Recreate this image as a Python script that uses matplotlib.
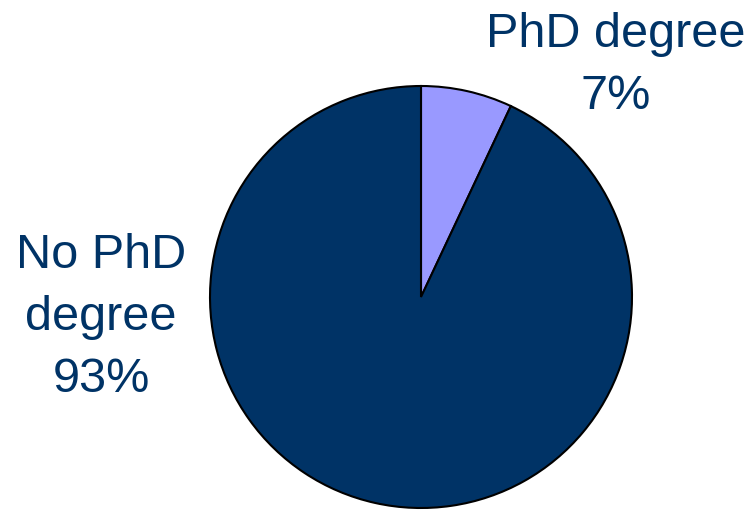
import matplotlib
matplotlib.use("Agg")
import matplotlib.pyplot as plt

categories = ["PhD degree", "No PhD degree"]
shares = [7, 93]
label_lines = [["PhD degree", "7%"], ["No PhD", "degree", "93%"]]
slice_colors = ["#9999FF", "#003366"]
text_color = "#003366"

W, H = 753, 511
fig = plt.figure(figsize=(W / 100, H / 100), dpi=100)
ax = fig.add_axes([0, 0, 1, 1])

ax.pie(shares, colors=slice_colors, startangle=90, counterclock=False,
       center=(421, H - 297), radius=211, frame=True,
       wedgeprops=dict(edgecolor="black", linewidth=1.5))
ax.set_xlim(0, W)
ax.set_ylim(0, H)
ax.set_aspect("equal")
ax.axis("off")

font = dict(family="Liberation Sans", fontsize=35, color=text_color,
            ha="center", va="baseline")
pitch = 62
# label blocks: (centre x, first baseline from top)
anchors = [(616, 47), (101, 268)]
for (cx, base), lines in zip(anchors, label_lines):
    for i, line in enumerate(lines):
        ax.text(cx, H - (base + i * pitch), line, **font)

fig.savefig("out.png", dpi=100)
